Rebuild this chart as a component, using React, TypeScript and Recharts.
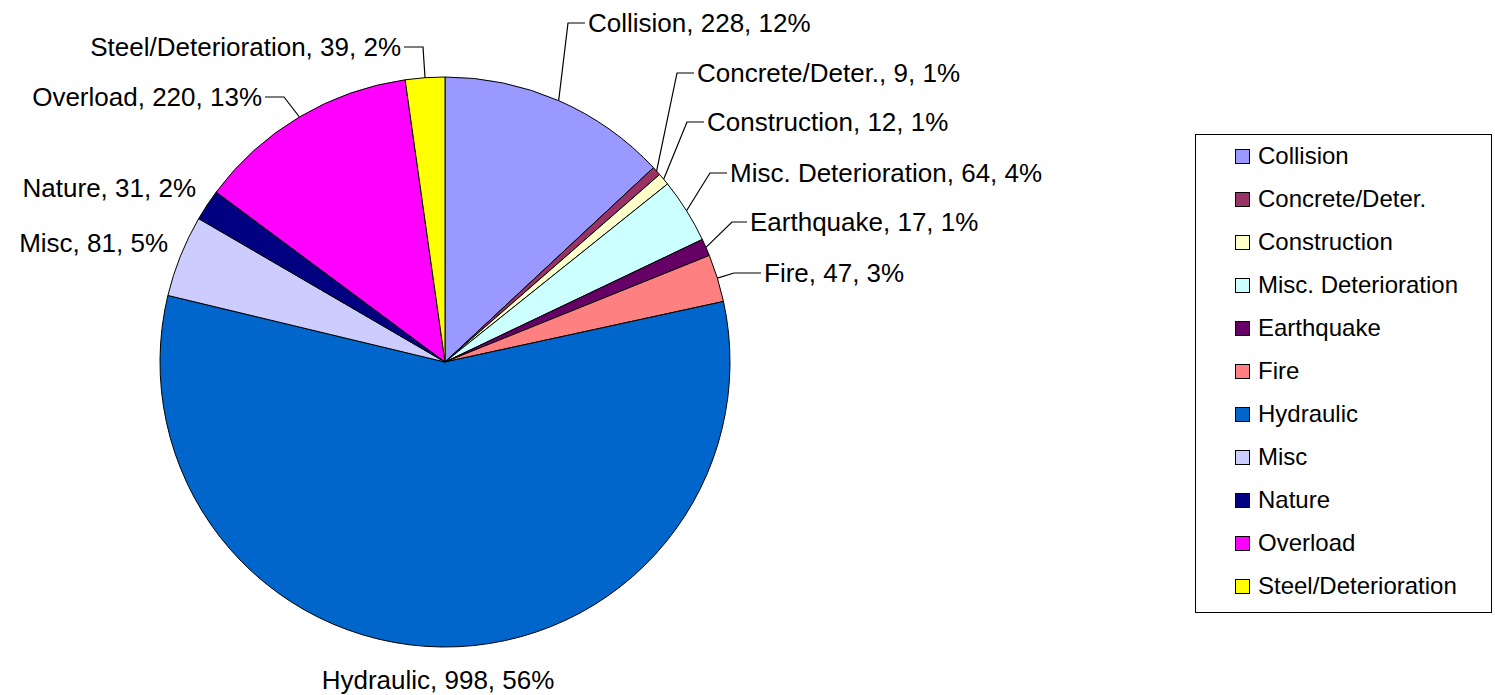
import { Cell, Legend, Pie, PieChart } from "recharts";

const CATEGORIES = [
  "Collision",
  "Concrete/Deter.",
  "Construction",
  "Misc. Deterioration",
  "Earthquake",
  "Fire",
  "Hydraulic",
  "Misc",
  "Nature",
  "Overload",
  "Steel/Deterioration",
];
const COUNTS = [228, 9, 12, 64, 17, 47, 998, 81, 31, 220, 39];
const PCT_LABELS = ["12%", "1%", "1%", "4%", "1%", "3%", "56%", "5%", "2%", "13%", "2%"];

const COLORS = [
  "#9999ff",
  "#993366",
  "#ffffcc",
  "#ccffff",
  "#660066",
  "#ff8080",
  "#0066cc",
  "#ccccff",
  "#000080",
  "#ff00ff",
  "#ffff00",
];

const data = CATEGORIES.map((name, i) => ({ name, value: COUNTS[i], pct: PCT_LABELS[i] }));

const FONT = "'Liberation Sans', Arial, sans-serif";
const RADIAN = Math.PI / 180;

// where each data label sits, as an offset from the pie centre
const LABEL_LAYOUT = [
  { dx: 143, dy: -339, anchor: "start", leader: true, elbow: 20 },
  { dx: 252, dy: -289, anchor: "start", leader: true, elbow: 20 },
  { dx: 262, dy: -240, anchor: "start", leader: true, elbow: 20 },
  { dx: 285, dy: -189, anchor: "start", leader: true, elbow: 20 },
  { dx: 305, dy: -140, anchor: "start", leader: true, elbow: 18 },
  { dx: 319, dy: -89, anchor: "start", leader: true, elbow: 30 },
  { dx: -7, dy: 318, anchor: "middle", leader: false, elbow: 0 },
  { dx: -277, dy: -119, anchor: "end", leader: false, elbow: 0 },
  { dx: -249, dy: -174, anchor: "end", leader: false, elbow: 0 },
  { dx: -183, dy: -265, anchor: "end", leader: true, elbow: 22 },
  { dx: -44, dy: -315, anchor: "end", leader: true, elbow: 22 },
];

function renderLabel(props: any) {
  const { cx, cy, midAngle, outerRadius, index, name, value } = props;
  const lay = LABEL_LAYOUT[index];
  const tx = cx + lay.dx;
  const ty = cy + lay.dy;
  const ex = cx + outerRadius * Math.cos(-midAngle * RADIAN);
  const ey = cy + outerRadius * Math.sin(-midAngle * RADIAN);
  const dir = lay.anchor === "start" ? -1 : 1;
  return (
    <g>
      {lay.leader && (
        <polyline
          points={`${ex},${ey} ${tx + dir * lay.elbow},${ty} ${tx + dir * 3},${ty}`}
          fill="none"
          stroke="#000"
          strokeWidth={1.2}
        />
      )}
      <text
        x={tx}
        y={ty}
        textAnchor={lay.anchor}
        dominantBaseline="central"
        fill="#000"
        fontSize={26}
        fontFamily={FONT}
      >
        {`${name}, ${value}, ${data[index].pct}`}
      </text>
    </g>
  );
}

function LegendBox() {
  return (
    <div
      style={{
        position: "relative",
        width: 297,
        height: 479,
        border: "1px solid #000",
        boxSizing: "border-box",
        background: "#fff",
        fontFamily: FONT,
      }}
    >
      {CATEGORIES.map((name, i) => (
        <div
          key={name}
          style={{
            position: "absolute",
            left: 39,
            top: 21 + i * 43 - 14,
            height: 28,
            display: "flex",
            alignItems: "center",
          }}
        >
          <span
            style={{
              width: 15,
              height: 15,
              boxSizing: "border-box",
              background: COLORS[i],
              border: "1.5px solid #000",
              marginRight: 8,
            }}
          />
          <span style={{ fontSize: 24, color: "#000", whiteSpace: "nowrap" }}>{name}</span>
        </div>
      ))}
    </div>
  );
}

export default function App() {
  return (
    <div style={{ position: "absolute", left: 0, top: 0, width: 1495, height: 695, background: "#fff" }}>
      <PieChart width={1495} height={695} margin={{ top: 0, right: 0, bottom: 0, left: 0 }}>
        <Pie
          data={data}
          dataKey="value"
          nameKey="name"
          cx={445}
          cy={362}
          outerRadius={285}
          startAngle={90}
          endAngle={-270}
          stroke="#000"
          strokeWidth={1}
          label={renderLabel}
          labelLine={false}
          isAnimationActive={false}
        >
          {data.map((d, i) => (
            <Cell key={d.name} fill={COLORS[i]} />
          ))}
        </Pie>
        <Legend
          content={() => <LegendBox />}
          wrapperStyle={{ position: "absolute", left: 1195, top: 134, width: 297, height: 479 }}
        />
      </PieChart>
    </div>
  );
}
